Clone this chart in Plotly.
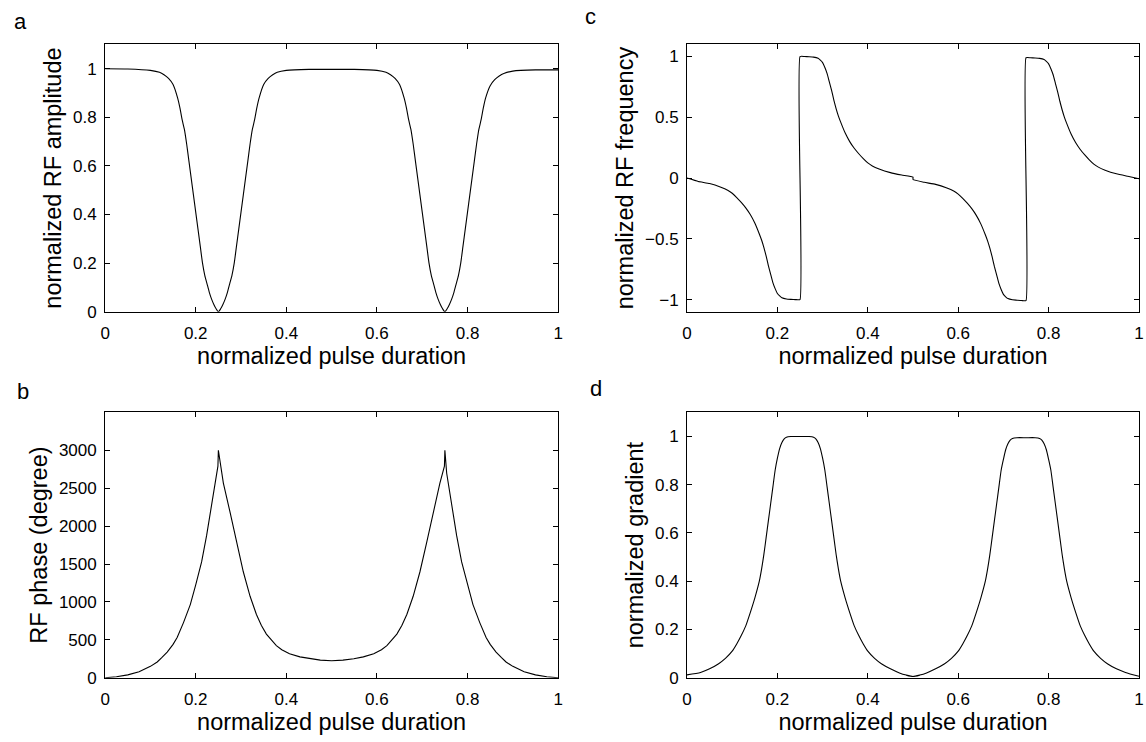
import plotly.graph_objects as go

# ---------------- data ----------------
# a: normalized RF amplitude
amp_t = [0, 0.05, 0.1, 0.12, 0.13, 0.14, 0.15, 0.16, 0.165, 0.17, 0.175, 0.18, 0.185, 0.19, 0.195,
         0.2, 0.205, 0.21, 0.215, 0.22, 0.225, 0.23, 0.235, 0.24, 0.245, 0.25,
         0.255, 0.26, 0.265, 0.27, 0.275, 0.28, 0.285, 0.29, 0.295, 0.3, 0.305, 0.31, 0.315, 0.32,
         0.325, 0.33, 0.335, 0.34, 0.35, 0.36, 0.37, 0.38, 0.4, 0.45, 0.5, 0.55, 0.6,
         0.62, 0.63, 0.64, 0.65, 0.66, 0.665, 0.67, 0.675, 0.68, 0.685, 0.69, 0.695,
         0.7, 0.705, 0.71, 0.715, 0.72, 0.725, 0.73, 0.735, 0.74, 0.745, 0.75,
         0.755, 0.76, 0.765, 0.77, 0.775, 0.78, 0.785, 0.79, 0.795, 0.8, 0.805, 0.81, 0.815, 0.82,
         0.825, 0.83, 0.835, 0.84, 0.85, 0.86, 0.87, 0.88, 0.9, 0.95, 1.0]
amp_v = [1.0, 0.999, 0.993, 0.985, 0.975, 0.96, 0.935, 0.88, 0.84, 0.79, 0.75, 0.69, 0.62, 0.55, 0.48,
         0.41, 0.34, 0.27, 0.2, 0.15, 0.115, 0.08, 0.052, 0.03, 0.012, 0.0,
         0.012, 0.03, 0.052, 0.08, 0.115, 0.15, 0.2, 0.27, 0.34, 0.41, 0.48, 0.55, 0.62, 0.69,
         0.75, 0.79, 0.84, 0.88, 0.935, 0.96, 0.975, 0.985, 0.993, 0.997, 0.997, 0.997, 0.993,
         0.985, 0.975, 0.96, 0.935, 0.88, 0.84, 0.79, 0.75, 0.69, 0.62, 0.55, 0.48,
         0.41, 0.34, 0.27, 0.2, 0.15, 0.115, 0.08, 0.052, 0.03, 0.012, 0.0,
         0.012, 0.03, 0.052, 0.08, 0.115, 0.15, 0.2, 0.27, 0.34, 0.41, 0.48, 0.55, 0.62, 0.69,
         0.75, 0.79, 0.84, 0.88, 0.93, 0.955, 0.97, 0.98, 0.99, 0.995, 0.995]

# b: RF phase (degree)
phase_t = [0, 0.025, 0.05, 0.075, 0.1, 0.115, 0.125, 0.137, 0.15, 0.159, 0.173, 0.188, 0.2, 0.213,
           0.224, 0.235, 0.246, 0.249, 0.25, 0.261, 0.276, 0.29, 0.305, 0.32, 0.334, 0.345, 0.356,
           0.367, 0.378, 0.39, 0.407, 0.43, 0.451, 0.475, 0.5, 0.525, 0.549, 0.57, 0.593, 0.61,
           0.622, 0.633, 0.644, 0.655, 0.666, 0.68, 0.695, 0.71, 0.724, 0.739, 0.749, 0.75, 0.754,
           0.765, 0.776, 0.787, 0.8, 0.812, 0.827, 0.841, 0.85, 0.863, 0.875, 0.885, 0.9, 0.925,
           0.95, 0.975, 1.0]
phase_v = [0, 12, 38, 80, 150, 208, 265, 338, 440, 532, 727, 965, 1225, 1528,
           1874, 2264, 2697, 2790, 3000, 2567, 2178, 1788, 1398, 1074, 835, 690, 576,
           500, 424, 370, 316, 275, 251, 232, 225, 232, 251, 275, 316, 370,
           424, 500, 576, 690, 835, 1074, 1398, 1788, 2178, 2567, 2790, 3000, 2697,
           2264, 1874, 1528, 1225, 965, 727, 532, 440, 338, 265, 208, 150, 80,
           38, 12, 0]

# c: normalized RF frequency (two samples at each jump)
freq_t = [0, 0.025, 0.05, 0.075, 0.09, 0.1, 0.11, 0.12, 0.13, 0.14, 0.15, 0.16, 0.165, 0.17, 0.175,
          0.18, 0.185, 0.19, 0.195, 0.2, 0.205, 0.21, 0.22, 0.23, 0.24, 0.25,
          0.25, 0.26, 0.27, 0.28, 0.29, 0.295, 0.3, 0.305, 0.31, 0.315, 0.32, 0.325, 0.33, 0.335,
          0.34, 0.35, 0.36, 0.37, 0.38, 0.39, 0.4, 0.41, 0.425, 0.45, 0.475, 0.5,
          0.5, 0.525, 0.55, 0.575, 0.59, 0.6, 0.61, 0.62, 0.63, 0.64, 0.65, 0.66, 0.665, 0.67, 0.675,
          0.68, 0.685, 0.69, 0.695, 0.7, 0.705, 0.71, 0.72, 0.73, 0.74, 0.75,
          0.75, 0.76, 0.77, 0.78, 0.79, 0.795, 0.8, 0.805, 0.81, 0.815, 0.82, 0.825, 0.83, 0.835,
          0.84, 0.85, 0.86, 0.87, 0.88, 0.89, 0.9, 0.91, 0.925, 0.95, 0.975, 1.0]
freq_v = [0, -0.028, -0.045, -0.075, -0.1, -0.125, -0.16, -0.2, -0.245, -0.3, -0.37, -0.46, -0.51, -0.57, -0.64,
          -0.72, -0.79, -0.86, -0.91, -0.95, -0.97, -0.985, -0.995, -0.998, -1.0, -1.0,
          1.0, 1.0, 0.998, 0.995, 0.985, 0.97, 0.95, 0.91, 0.86, 0.79, 0.72, 0.64, 0.57, 0.51,
          0.46, 0.37, 0.3, 0.245, 0.2, 0.16, 0.125, 0.1, 0.075, 0.045, 0.025, 0.008,
          -0.012, -0.035, -0.052, -0.082, -0.107, -0.132, -0.167, -0.207, -0.252, -0.307, -0.377, -0.467, -0.517, -0.577, -0.647,
          -0.727, -0.797, -0.867, -0.917, -0.957, -0.977, -0.992, -1.002, -1.005, -1.008, -1.008,
          0.99, 0.99, 0.988, 0.985, 0.975, 0.96, 0.94, 0.9, 0.85, 0.78, 0.71, 0.63, 0.56, 0.5,
          0.45, 0.36, 0.29, 0.235, 0.19, 0.15, 0.115, 0.09, 0.065, 0.035, 0.015, -0.005]

# d: normalized gradient
grad_t = [0, 0.03, 0.05, 0.07, 0.085, 0.1, 0.11, 0.12, 0.13, 0.14, 0.15, 0.16, 0.165, 0.17, 0.175,
          0.18, 0.185, 0.19, 0.195, 0.2, 0.205, 0.21, 0.215, 0.22, 0.23, 0.25, 0.27, 0.28, 0.285,
          0.29, 0.295, 0.3, 0.305, 0.31, 0.315, 0.32, 0.325, 0.33, 0.335, 0.34, 0.35, 0.36, 0.37,
          0.38, 0.39, 0.4, 0.415, 0.43, 0.45, 0.47, 0.485, 0.5,
          0.515, 0.53, 0.55, 0.57, 0.585, 0.6, 0.61, 0.62, 0.63, 0.64, 0.65, 0.66, 0.665, 0.67, 0.675,
          0.68, 0.685, 0.69, 0.695, 0.7, 0.705, 0.71, 0.715, 0.72, 0.73, 0.75, 0.77, 0.78, 0.785,
          0.79, 0.795, 0.8, 0.805, 0.81, 0.815, 0.82, 0.825, 0.83, 0.835, 0.84, 0.85, 0.86, 0.87,
          0.88, 0.89, 0.9, 0.915, 0.93, 0.95, 0.97, 1.0]
grad_v = [0.012, 0.022, 0.037, 0.058, 0.08, 0.11, 0.14, 0.175, 0.215, 0.27, 0.33, 0.4, 0.45, 0.51, 0.58,
          0.65, 0.72, 0.79, 0.86, 0.91, 0.95, 0.975, 0.99, 0.997, 1.0, 1.0, 1.0, 0.997, 0.99,
          0.975, 0.95, 0.91, 0.86, 0.79, 0.72, 0.65, 0.58, 0.51, 0.45, 0.4, 0.33, 0.27, 0.215,
          0.175, 0.14, 0.11, 0.08, 0.058, 0.037, 0.02, 0.011, 0.005,
          0.011, 0.02, 0.037, 0.058, 0.08, 0.11, 0.14, 0.175, 0.215, 0.27, 0.33, 0.4, 0.45, 0.51, 0.58,
          0.65, 0.72, 0.79, 0.86, 0.905, 0.945, 0.97, 0.985, 0.992, 0.995, 0.995, 0.995, 0.992, 0.985,
          0.97, 0.945, 0.905, 0.86, 0.79, 0.72, 0.65, 0.58, 0.51, 0.45, 0.4, 0.33, 0.27, 0.215,
          0.175, 0.14, 0.11, 0.08, 0.058, 0.037, 0.022, 0.006]

x_ticks = [0, 0.2, 0.4, 0.6, 0.8, 1]
x_tick_labels = ["0", "0.2", "0.4", "0.6", "0.8", "1"]
unit_ticks = [0, 0.2, 0.4, 0.6, 0.8, 1]
unit_tick_labels = ["0", "0.2", "0.4", "0.6", "0.8", "1"]
freq_ticks = [-1, -0.5, 0, 0.5, 1]
freq_tick_labels = ["\u22121", "\u22120.5", "0", "0.5", "1"]
phase_ticks = [0, 500, 1000, 1500, 2000, 2500, 3000]
phase_tick_labels = ["0", "500", "1000", "1500", "2000", "2500", "3000"]

x_title = "normalized pulse duration"
panel_letters = ["a", "b", "c", "d"]

# ---------------- figure ----------------
FONT = "Liberation Sans, Arial, Helvetica, sans-serif"
TICK_SIZE = 17
TITLE_SIZE = 23.5
line = dict(color="black", width=1.1)

fig = go.Figure()
fig.add_trace(go.Scatter(x=amp_t, y=amp_v, mode="lines", line=dict(shape="spline", smoothing=0.6, **line), xaxis="x", yaxis="y"))
fig.add_trace(go.Scatter(x=phase_t, y=phase_v, mode="lines", line=dict(shape="linear", **line), xaxis="x2", yaxis="y2"))
fig.add_trace(go.Scatter(x=freq_t, y=freq_v, mode="lines", line=dict(shape="spline", smoothing=0.4, **line), xaxis="x3", yaxis="y3"))
fig.add_trace(go.Scatter(x=grad_t, y=grad_v, mode="lines", line=dict(shape="spline", smoothing=0.6, **line), xaxis="x4", yaxis="y4"))

W, H = 1146, 742
left_dom = [101 / W, 558 / W]
right_dom = [688 / W, 1144 / W]
top_dom = [1 - 316 / H, 1 - 45 / H]
bot_dom = [1 - 687 / H, 1 - 418 / H]


def xax(dom, anchor):
    return dict(domain=dom, anchor=anchor, range=[0, 1], tickmode="array", tickvals=x_ticks,
                ticktext=x_tick_labels, ticks="inside", ticklen=5, tickwidth=1, tickcolor="black",
                ticklabelstandoff=6,
                showline=True, linecolor="black", linewidth=1, mirror="ticks", showgrid=False,
                zeroline=False, tickfont=dict(size=TICK_SIZE, color="black", family=FONT),
                title=dict(text=x_title, font=dict(size=TITLE_SIZE, color="black", family=FONT), standoff=3))


def yax(dom, anchor, rng, tv, tt, title):
    return dict(domain=dom, anchor=anchor, range=rng, tickmode="array", tickvals=tv, ticktext=tt,
                ticks="inside", ticklen=5, tickwidth=1, tickcolor="black",
                ticklabelstandoff=4,
                showline=True, linecolor="black", linewidth=1, mirror="ticks", showgrid=False,
                zeroline=False, tickfont=dict(size=TICK_SIZE, color="black", family=FONT),
                title=dict(text=title, font=dict(size=TITLE_SIZE, color="black", family=FONT), standoff=4))


fig.update_layout(
    width=W, height=H, margin=dict(l=0, r=0, t=0, b=0),
    paper_bgcolor="white", plot_bgcolor="white", showlegend=False,
    font=dict(family=FONT, color="black"),
    xaxis=xax(left_dom, "y"),
    yaxis=yax(top_dom, "x", [0, 1.1], unit_ticks, unit_tick_labels, "normalized RF amplitude"),
    xaxis2=xax(left_dom, "y2"),
    yaxis2=yax(bot_dom, "x2", [0, 3500], phase_ticks, phase_tick_labels, "RF phase (degree)"),
    xaxis3=xax(right_dom, "y3"),
    yaxis3=yax(top_dom, "x3", [-1.1, 1.1], freq_ticks, freq_tick_labels, "normalized RF frequency"),
    xaxis4=xax(right_dom, "y4"),
    yaxis4=yax(bot_dom, "x4", [0, 1.1], unit_ticks, unit_tick_labels, "normalized gradient"),
)

letter_pos = [(7, 22), (10, 397), (583, 17), (588, 394)]
for letter, (px, py) in zip(panel_letters, letter_pos):
    fig.add_annotation(text=letter, x=px / W, y=1 - py / H, xref="paper", yref="paper",
                       xanchor="left", yanchor="middle", showarrow=False,
                       font=dict(size=22, color="black", family=FONT))

fig.write_html("out.html")
